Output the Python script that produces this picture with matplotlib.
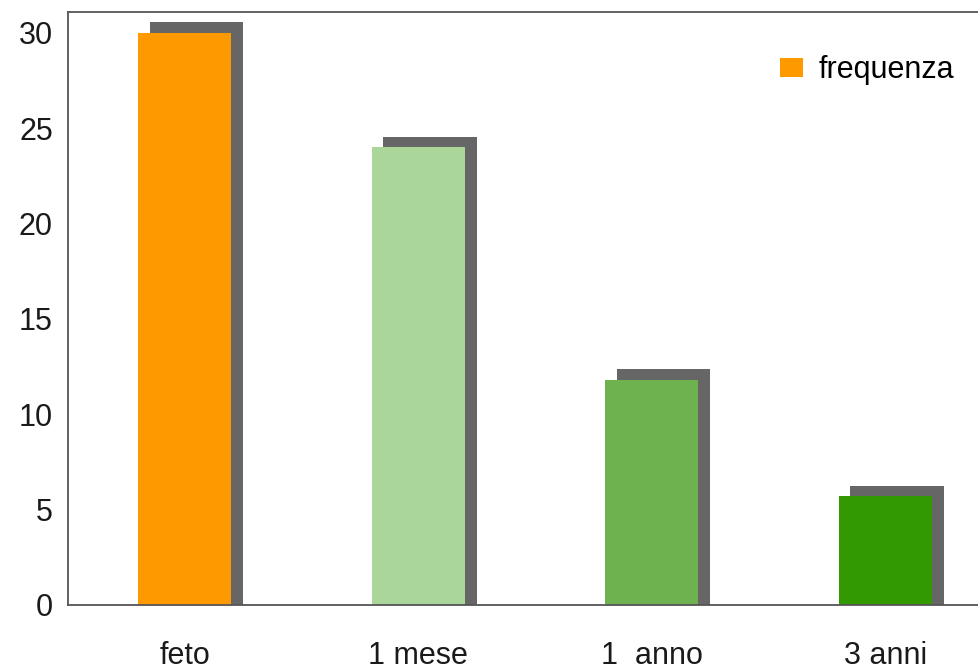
import numpy as np
import matplotlib.pyplot as plt

categorie = ["feto", "1 mese", "1  anno", "3 anni"]
frequenza = [30, 24, 11.8, 5.7]
colori = ["#ff9900", "#abd699", "#6db24f", "#339900"]

plt.rcParams['font.family'] = ['Liberation Sans', 'DejaVu Sans']

fig = plt.figure(figsize=(9.79, 6.71), dpi=100)
# the plot area runs past the right edge of the figure
ax = fig.add_axes([0.0695, 0.0984, 0.954, 0.8838])

x = np.arange(len(categorie))
w = 0.4

# grey drop shadow behind each bar
ax.bar(x + 0.05, np.array(frequenza) + 0.55, width=w, color="#666666", zorder=1)
ax.bar(x, frequenza, width=w, color=colori, label="frequenza", zorder=2)

ax.set_xlim(-0.5, 3.5)
ax.set_ylim(0, 31.1)
ax.set_yticks(range(0, 31, 5))
ax.set_xticks(x)
ax.set_xticklabels(categorie)
ax.tick_params(axis='y', length=0, pad=11, labelsize=22, labelcolor="#1a1a1a")
ax.tick_params(axis='x', length=0, pad=26, labelsize=22, labelcolor="#1a1a1a")

for s in ax.spines.values():
    s.set_color("#555555")
    s.set_linewidth(1.3)

ax.legend(loc='center left', bbox_to_anchor=(780 / 979, 1 - 70 / 671), bbox_transform=fig.transFigure,
          frameon=False, fontsize=22, borderpad=0, borderaxespad=0,
          handlelength=0.75, handleheight=0.6, handletextpad=0.5)

fig.savefig("out.png", dpi=100)
